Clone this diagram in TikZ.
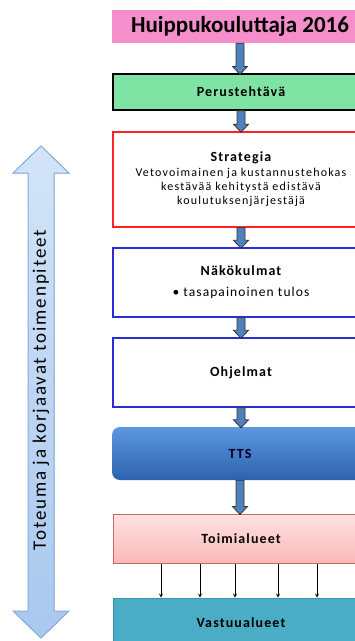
\documentclass[tikz,border=0pt]{standalone}
\usepackage{fontspec}
\setmainfont{Carlito}
\usetikzlibrary{calc}

\definecolor{huippupink}{HTML}{F58FCB}
\definecolor{perusgreen}{HTML}{7FE3A3}
\definecolor{strategiared}{HTML}{FF2424}
\definecolor{boxblue}{HTML}{2B2BD8}
\definecolor{arrowblue}{HTML}{4F81BD}
\definecolor{ttstop}{HTML}{5C98DE}
\definecolor{ttsbottom}{HTML}{2E62AE}
\definecolor{toimitop}{HTML}{FFE2E2}
\definecolor{toimibottom}{HTML}{F8B9B9}
\definecolor{toimiedge}{HTML}{D06464}
\definecolor{vastuuteal}{HTML}{4BACC6}
\definecolor{sidetop}{HTML}{D3E4F8}
\definecolor{sidebottom}{HTML}{A9C8EE}
\definecolor{sideedge}{HTML}{86ACDB}

\newcommand{\blockarrow}[2]{%
	\path[blockarr] let \p1=(#1.south), \p2=(#2.north) in
		(\x1-4pt,\y1) -- (\x1+4pt,\y1) -- (\x1+4pt,\y2+7pt) -- (\x1+7.5pt,\y2+7pt)
		-- (\x1,\y2-1pt) -- (\x1-7.5pt,\y2+7pt) -- (\x1-4pt,\y2+7pt) -- cycle;}
\newcommand{\spaced}[3]{\fontsize{#1}{#2}\selectfont\addfontfeature{LetterSpace=#3}}

\begin{document}
\begin{tikzpicture}[x=1pt,y=-1pt,
	box/.style={minimum width=256pt, inner sep=0pt, align=center},
	heading/.style={font=\bfseries\spaced{14}{16}{8}},
	blockarr/.style={draw=black!80, fill=arrowblue, line width=0.8pt},
	thinarr/.style={draw=black, line width=0.8pt, -stealth}]
	\useasboundingbox (0,0) rectangle (355,641);
	\clip (0,0) rectangle (355,641);

	% vasen nuoli
	\filldraw[draw=sideedge, line width=1pt, top color=sidetop, bottom color=sidebottom]
		(41,146) -- (69,173) -- (54,173) -- (54,611) -- (69,611) -- (41,638)
		-- (13,611) -- (28,611) -- (28,173) -- (13,173) -- cycle;
	\node[rotate=90, font=\spaced{19}{21}{10}] (korjaus) at (41,390) {Toteuma ja korjaavat toimenpiteet};

	\node[box, fill=huippupink, minimum height=33pt, font=\bfseries\fontsize{23}{25}\selectfont] (huippu) at (240,26.5) {Huippukouluttaja 2016};
	\node[box, heading, draw=black, line width=1.2pt, fill=perusgreen, minimum height=36pt] (perus) at (241,92) {Perustehtävä};
	\node[box, draw=strategiared, line width=1.6pt, fill=white, minimum height=95pt, font=\spaced{12}{14}{10}] (strategia) at (241,179.5)
		{{\bfseries\spaced{14}{16}{8}Strategia}\\[1pt]
		 Vetovoimainen ja kustannustehokas\\
		 kestävää kehitystä edistävä\\ koulutuksenjärjestäjä};
	\node[box, draw=boxblue, line width=1.4pt, fill=white, minimum height=69pt, font=\spaced{13.5}{16}{8}] (nakokulmat) at (241,282.5)
		{{\bfseries\spaced{14}{16}{8}Näkökulmat}\\[5pt]
		 \textbullet\ tasapainoinen tulos};
	\node[box, heading, draw=boxblue, line width=1.4pt, fill=white, minimum height=69pt] (ohjelmat) at (241,372.5) {Ohjelmat};
	\node[box, heading, rounded corners=8pt, top color=ttstop, bottom color=ttsbottom, minimum height=53pt, text=black!85!blue] (tts) at (240,453.5) {TTS};
	\node[box, heading, draw=toimiedge, line width=1pt, top color=toimitop, bottom color=toimibottom, minimum height=49pt] (toimi) at (241,538.5) {Toimialueet};
	\node[box, heading, draw=vastuuteal!85!black, line width=0.8pt, fill=vastuuteal, minimum height=50pt] (vastuu) at (241,623) {Vastuualueet};

	\blockarrow{huippu}{perus}
	\blockarrow{perus}{strategia}
	\blockarrow{strategia}{nakokulmat}
	\blockarrow{nakokulmat}{ohjelmat}
	\blockarrow{ohjelmat}{tts}
	\blockarrow{tts}{toimi}

	\foreach \xx in {161,200,235,278,317}
		\draw[thinarr] (\xx,0 |- toimi.south) -- (\xx,0 |- vastuu.north);
\end{tikzpicture}
\end{document}
